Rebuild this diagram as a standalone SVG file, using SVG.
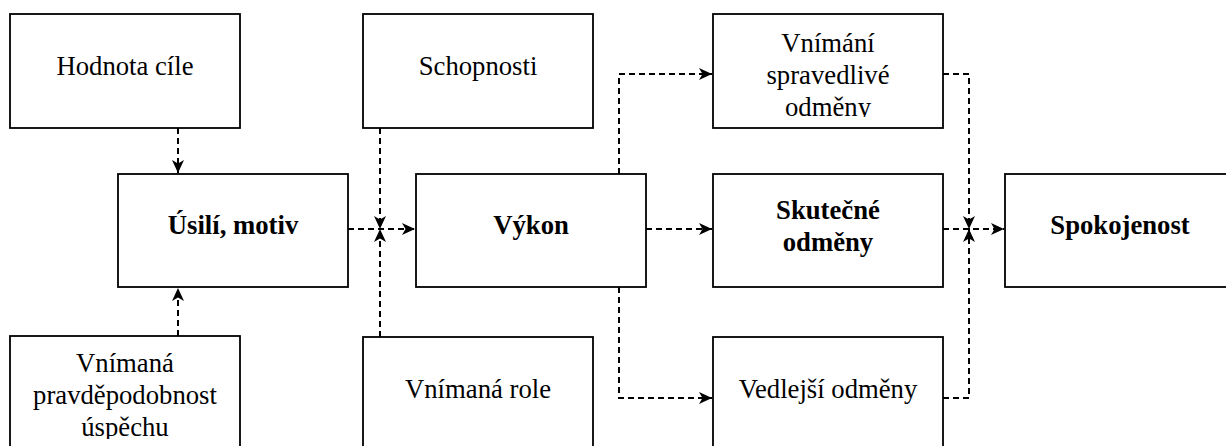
<svg xmlns="http://www.w3.org/2000/svg" width="1226" height="446" viewBox="0 0 1226 446">
<style>
.box{fill:#fff;stroke:#000;stroke-width:1.8}
.t{font-family:"Liberation Serif","Times New Roman","DejaVu Serif",serif;font-size:26.7px;fill:#000;text-anchor:middle}
.b{font-weight:bold}
.c{fill:none;stroke:#000;stroke-width:2;stroke-dasharray:6 4}
</style>
<defs>
<marker id="ah" markerUnits="userSpaceOnUse" markerWidth="14" markerHeight="12" refX="13" refY="6" orient="auto">
<path d="M0,0 L13,6 L0,12 L3.5,6 Z" fill="#000"/>
</marker>
<clipPath id="clipA"><rect x="713" y="14" width="230" height="103"/></clipPath>
<clipPath id="clipB"><rect x="10" y="336" width="230" height="103"/></clipPath>
</defs>
<rect width="1226" height="446" fill="#fff"/>
<g id="connectors">
<path class="c" d="M178,128 V173" marker-end="url(#ah)"/>
<path class="c" d="M178,336 V288" marker-end="url(#ah)"/>
<path class="c" d="M348,229 H415" marker-end="url(#ah)"/>
<path class="c" d="M380,128 V229" marker-end="url(#ah)"/>
<path class="c" d="M380,337 V229" marker-end="url(#ah)"/>
<path class="c" d="M619,174 V74 H712" marker-end="url(#ah)"/>
<path class="c" d="M646,229 H712" marker-end="url(#ah)"/>
<path class="c" d="M619,287 V398 H712" marker-end="url(#ah)"/>
<path class="c" d="M943,74 H969 V229" marker-end="url(#ah)"/>
<path class="c" d="M943,229 H1004" marker-end="url(#ah)"/>
<path class="c" d="M943,398 H969 V229" marker-end="url(#ah)"/>
</g>
<g id="n1"><rect class="box" x="10" y="14" width="230" height="114"/><text class="t" x="125" y="75">Hodnota cíle</text></g>
<g id="n2"><rect class="box" x="363" y="14" width="230" height="114"/><text class="t" x="478" y="75">Schopnosti</text></g>
<g id="n3"><rect class="box" x="713" y="14" width="230" height="114"/><g clip-path="url(#clipA)"><text class="t" x="828" y="52">Vnímání</text><text class="t" x="828" y="84">spravedlivé</text><text class="t" x="828" y="116">odměny</text></g></g>
<g id="n4"><rect class="box" x="118" y="174" width="230" height="113"/><text class="t b" x="233" y="234">Úsilí, motiv</text></g>
<g id="n5"><rect class="box" x="416" y="174" width="230" height="113"/><text class="t b" x="531" y="234">Výkon</text></g>
<g id="n6"><rect class="box" x="713" y="174" width="230" height="113"/><text class="t b" x="828" y="219">Skutečné</text><text class="t b" x="828" y="251">odměny</text></g>
<g id="n7"><rect class="box" x="1005" y="174" width="230" height="113"/><text class="t b" x="1120" y="234">Spokojenost</text></g>
<g id="n8"><rect class="box" x="10" y="336" width="230" height="114"/><g clip-path="url(#clipB)"><text class="t" x="125" y="372">Vnímaná</text><text class="t" x="125" y="404">pravděpodobnost</text><text class="t" x="125" y="436">úspěchu</text></g></g>
<g id="n9"><rect class="box" x="363" y="337" width="230" height="114"/><text class="t" x="478" y="398">Vnímaná role</text></g>
<g id="n10"><rect class="box" x="713" y="337" width="230" height="114"/><text class="t" x="828" y="398">Vedlejší odměny</text></g>
</svg>
